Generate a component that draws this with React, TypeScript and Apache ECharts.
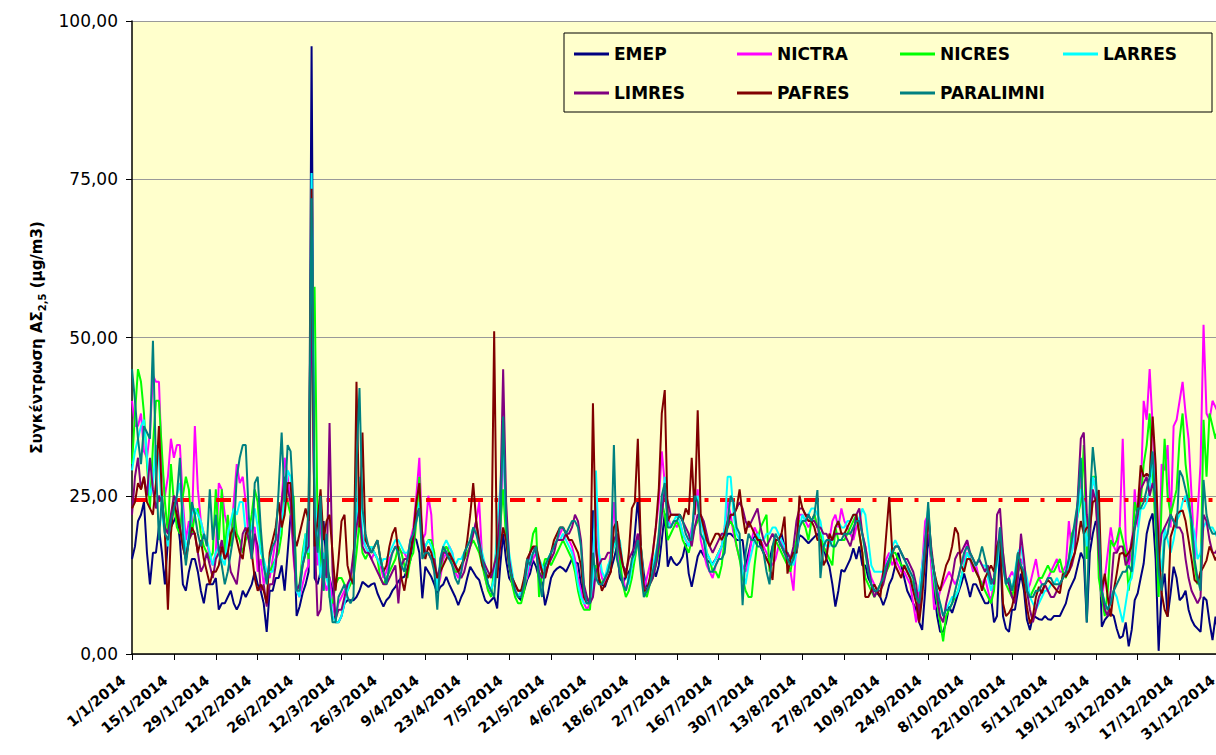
import React, { useEffect, useRef } from "react";
import * as echarts from "echarts";

// Daily PM2.5 values (μg/m3), 1/1/2014 – 31/12/2014
const EMEP = [
  15,17,21,22,24,16,11,16,16,20,16,11,18,20,
  21,22,18,11,10,13,15,15,13,10,8,11,11,11,
  12,7,8,8,9,10,8,7,8,10,9,10,11,13,
  11,10,8,3.5,10,10,12,12,14,10,16,22,20,6,
  7.5,9.6,11,13,96,12,11,13,21,14,12,10,5,5,
  6,8,8.5,8.5,8.5,9,10,11.4,11,10.6,11,11.2,9.6,8.5,
  7.5,8.5,9,10,10.6,11.5,12,12.2,13.5,14.8,18.5,18,16,8.8,
  13.8,13,12.2,11,9.6,10.6,11,12.2,11,10,9,7.7,9,10,
  12,13.8,13,12.2,11.7,10,8.5,8,8.5,9,7.2,13.8,19,14.8,
  12,11.2,10,9,8.5,10,11.7,12.7,14.8,13.8,12,11.2,7.7,9.6,
  12,13,13.5,13.8,13.5,13,14,15,14.5,14.3,11,9,8.5,8.5,
  22.7,17,11.2,11,10.6,12,13.3,15,17,12,11.2,12.2,13,13.8,
  19,24.6,17,12.7,10,11.7,13.8,12.2,14,18,22.2,13.8,15.4,14.5,
  14,14.5,15.4,17.5,12.7,10.6,13,15.4,16.4,15.5,14.8,14.5,14.3,15,
  16,17,18,19,19,18.5,18,18,18,13.8,16,18,18.5,19,
  17,16,15,14.8,17,18,18,19,17,15,14.5,15,16,18.8,
  18.5,18,17.5,18,18.5,19,18,17,15,13.8,11,7.5,10,13.3,
  13,14,15,16.7,15,17,14,14,12,11,10,9.6,9,7.7,
  9,11,12,14,16,14,12,10,9,8,7,5,3.8,10,
  19,15,10,6,3.5,3.5,5,7.5,6.5,8,9.6,11,12.7,11,
  9,11,11,10,9,8,8,9,5,6,17,6,4,3.5,
  7,7,10,12.7,10,5.4,3.8,6,5.8,5.5,5.4,6,5.5,5.4,
  6,6,6,7,8,10,11,12,14,16,15,5,16,19,
  21,20,4.3,5.4,6,6.4,6,4,2.5,2.8,5,1.2,3.8,8.5,
  9.6,12,14.3,19,21,22.2,15,0.5,10,12.7,5.9,9.6,13.8,12,
  8.5,9,10,7,5.4,4.5,4,3.5,9,8.5,5,2.2,5.9,3,2.5,
];

const NICTRA = [
  40,36,36,38,32,31,35,44,43,43,30,25,28,34,
  31,33,33,24,18,21,20,36,26,21,19,18,15,14,
  16,27,26,22,20,18,24,30,27,28,24,18,20,20,
  13,15,11,13,12,15,18,19,24,31,28,24,15,10,
  9,11,13,14,62,20,14,22,12,10,12,8,6,8,
  9,10,11,12,15,20,24,18,17,16,15,16,15,14,
  12,13,15,16,17,17,16,16,15,18,20,25,31,18,
  19,25,22,13,10,12,15,16,17,16,13,12,13,15,
  16,17,19,21,24,15,12,10,10,12,14,17,35,20,
  14,11,10,9,9,11,12,14,15,16,14,13,12,14,
  16,17,18,19,20,19,18,17,15,12,10,8,7,8,
  10,24,15,12,11,13,16,24,17,13,12,10,12,14,
  15,19,14,10,12,14,16,20,24,32,27,22,20,21,
  20,21,19,18,17,20,22,26,18,16,14,13,12,14,
  15,17,20,24,22,19,17,15,14,13,15,18,20,19,
  18,17,16,15,14,15,17,18,16,14,13,10,18,22,
  22,21,20,21,22,20,18,17,16,18,21,22,20,23,
  21,20,19,18,20,21,19,17,14,12,11,10,11,13,
  15,16,14,15,14,13,13,12,11,8,5,10,14,21,
  22,14,7,8,10,11,12,13,12,11,12,14,15,18,
  15,13,14,12,11,12,10,8,12,16,20,15,11,12,
  13,12,13,15,14,10,11,13,15,12,11,11,12,13,
  14,15,13,13,14,21,16,20,24,28,22,17,21,28,
  26,15,9,12,16,20,17,16,20,34,18,14,16,26,
  20,25,40,37,45,36,25,12,30,29,33,20,36,37,
  40,43,38,34,25,15,22,30,52,38,37,40,39,38,38,
];

const NICRES = [
  30,38,45,43,38,30,23,33,40,40,32,24,19,30,
  24,20,19,25,28,26,19,22,23,19,17,16,15,16,
  26,18,26,16,22,17,23,19,18,16,18,19,22,26,
  24,17,14,12,13,14,15,16,19,26,24,22,25,10,
  11,16,19,15,55,58,20,15,10,18,9,8,11,12,
  12,11,10,11,12,16,21,16,15,16,17,16,15,12,
  11,12,13,14,15,17,16,14,12,15,16,21,28,16,
  17,18,18,16,10,13,16,17,16,14,13,13,14,15,
  16,17,18,17,16,14,12,10,9,14,17,20,26,18,
  14,11,9,8,8,10,13,16,19,20,9,13,15,15,
  14,15,16,17,18,17,16,15,13,10,8,7,7,7,
  13,14,12,11,12,13,15,17,19,15,11,9,10,12,
  15,18,17,10,9,11,12,14,16,24,22,18,19,20,
  21,20,18,17,16,18,20,21,22,20,16,15,13,13,
  12,14,18,20,21,20,17,15,12,10,9,9,14,18,
  20,21,22,13,16,18,17,16,15,14,13,16,18,21,
  21,20,18,21,22,20,19,17,16,15,14,20,18,18,
  18,19,20,21,22,19,16,12,11,10,9,10,11,12,
  13,14,16,16,15,14,14,13,12,11,9,8,12,16,
  23,16,11,8,5,2,6,7,8,9,10,12,14,16,
  15,14,13,12,11,10,9,8,10,16,19,16,11,10,
  9,11,13,14,12,10,9,10,11,12,12,13,14,13,
  13,14,15,13,12,15,19,20,22,24,33,15,22,28,
  28,12,9,6,10,18,17,18,20,18,16,10,14,24,
  22,24,30,33,38,28,20,9,24,34,25,22,24,26,
  34,38,30,26,19,14,11,12,37,28,38,36,34,36,38,
];

const LARRES = [
  29,32,34,36,37,31,25,27,33,31,22,19,17,21,
  23,25,27,22,16,19,22,23,22,21,19,18,16,14,
  16,17,15,14,19,21,23,22,24,24,19,19,20,23,
  20,16,15,13,13,13,15,18,21,24,29,28,19,10,
  9,15,19,16,76,26,18,12,16,12,10,6,5,5,
  6,8,10,12,15,21,28,19,17,16,17,16,15,14,
  15,15,16,17,18,18,17,16,16,17,19,21,24,16,
  17,18,17,15,10,15,17,18,17,16,14,15,15,16,
  17,18,20,19,18,16,14,11,10,12,20,26,34,21,
  16,13,10,9,10,11,13,15,16,16,15,14,13,15,
  16,17,18,18,19,18,17,16,14,11,9,8,8,8,
  12,29,16,13,12,14,15,17,18,18,14,13,11,14,
  16,18,17,11,10,12,14,16,18,22,28,21,20,21,
  22,21,19,18,17,19,24,25,21,19,16,15,14,15,
  16,17,20,28,28,22,19,18,13,11,14,16,18,19,
  18,18,19,19,20,20,19,18,17,16,15,14,16,20,
  22,21,22,23,23,22,21,18,17,17,18,20,21,20,
  20,21,21,22,22,21,23,22,18,14,13,13,13,13,
  14,15,17,18,17,16,15,14,12,10,10,10,14,18,
  23,16,12,9,8,6,7,8,9,9,10,12,14,16,
  15,14,14,15,14,14,12,10,12,14,18,14,11,12,
  10,13,16,17,14,12,9,8,7,8,9,10,10,11,
  11,12,11,12,13,14,16,19,22,26,24,17,20,28,
  26,20,10,8,7,9,10,9,7,5,8,11,12,15,
  19,23,23,24,26,31,25,17,13,20,18,16,18,21,
  22,24,25,23,21,19,15,16,20,21,20,20,19,18,18,
];

const LIMRES = [
  22,28,31,26,28,25,31,26,23,25,24,20,19,22,
  25,24,20,17,15,18,19,19,16,13,14,16,14,12,
  15,16,18,15,16,13,12,11,15,19,20,18,15,19,
  17,10,11,7.5,11,11,14,19,24,28,26,24,16,10,
  11,14,16,17,60,19,6,7,15,12,36.5,13,5.5,7,
  7,9,11,12,16,20,23,17,16,16,15,14,13,12,
  11,11,12,13,14,8,14,15,15,16,18,22,23,19,
  16,16,15,15,12,14,16,16,15,15,14,13,12,13,
  15,17,19,21,18,15,14,13,12,14,16,23,45,24,
  15,12,11,10,10,11,14,16,17,16,13,12,13,14,
  15,16,18,18,18,19,19,20,22,21,18,11,9,8,
  9,13,14,15,15,16,16,18,19,16,14,13,15,16,
  17,19,15,11,10,11,12,14,17,22,26,24,22,22,
  22,22,21,20,19,17,20,22,22,21,19,17,16,17,
  18,19,19,20,22,22,23,24,23,21,20,21,22,23,
  20,18,17,18,19,18,18,17,16,16,15,17,21,23,
  23,22,22,21,21,20,20,19,19,18,18,19,19,19,
  19,18,17,19,22,23,19,17,14,11,9,10,10,11,
  13,15,16,17,17,16,15,15,14,13,11,6,12,18,
  22,17,13,9,6,5,8,10,12,15,16,16,17,18,
  16,15,14,15,14,13,14,12,11,22,23,16,12,11,
  9,8,12,19,15,10,7,5,7,9,10,11,10,9,
  9,10,11,12,13,13,14,16,25,34,35,22,18,26,
  24,16,10,7,6,10,16,16,17,17,14,15,18,20,
  22,26,27,28,25,27,25,15,19,20,21,22,21,20,
  20,19,15,12,10,9,8,9,22,21,18,16,16,17,17,
];

const PAFRES = [
  23,24,27,26,28,24,23,22,27,36,25,19,7,19,
  24,22,20,17,15,18,20,19,16,18,15,13,11,13,
  13,14,17,15,16,19,20,18,16,15,19,20,16,12,
  10,11,10,8,16,18,20,24,20,22,27,27,19,17,
  19,21,23,21,73.5,17,21,26,18,21,22,16,10,15,
  21,22,14,12,11,43,20,35,18,17,16,17,18,15,
  13,14,17,19,20,16,12,10,13,16,19,24,27,18,
  15,17,16,14,12,13,14,15,16,15,14,13,14,15,
  18,22,27,21,17,14,13,12,13,51,12,17,20,18,
  14,12,11,10,10,12,15,16,17,17,15,13,12,14,
  16,18,19,20,20,19,18,18,17,16,14,9,8,8,
  39.6,17,12,10,11,12,13,20,21,17,14,12,16,23,
  24,34,17,10,10,12,16,20,26,38,41.7,21,22,22,
  22,22,21,23,22,31,22,38.5,22,20,18,17,18,19,
  19,18,19,21,22,22,23,26,22,19,21,20,19,18,
  18,16,15,14,11.7,18,18,19,21.7,12.7,15,16,16,25,
  23,22,21,21,20,18,18,14,15,19,18,20,21,19,
  19,20,21,22,22,19,16,9,9,10,11,10,9,13,
  19,24.8,16,14,13,12,14,13,12,10,8,5,9,15,
  22,16,13,11,10,12,14,15,17,20,19,14,13,15,
  15,14,13,12,10,12,13,14,13,17,18.5,8,6,6.5,
  7.4,9.6,16,13.8,11,7.4,4.8,6,9,10.6,9.6,11,11.7,11.2,
  10.6,10,9.6,12.7,12.2,13,14.8,16,18,21,19,20,20,24,
  24.3,25.9,10,12.7,9,5.9,10,12.7,15.8,16,15.4,16,17,20,
  23,29.8,28,28.5,28,37.5,30,17,9.6,7,5.9,18.5,20,22,
  22.5,22.7,21,18,15,11.7,11.2,13,13.8,14.8,17,16,14.8,16,15,
];

const PARALIMNI = [
  45,40,34,30,36,35,34,49.5,30,18,25,19,18,21,
  23,25,31,19,14,18,24,22,19,17,19,17,26,18,
  22,16,14,11,13,16,19,28,31,33,33,22,15,27,
  28,20,14,11,15,17,18,26,35,24,33,32,23,10,
  10,14,16,23,72,22,16,25,10,19,9,5,5,9,
  10,11,9,8,9,30,42,23,19,17,16,17,18,15,
  13,11,14,16,17,16,14,13,15,18,19,21,23,15,
  16,16,15,13,7,15,17,16,15,14,12,11,13,16,
  17,18,20,19,17,15,13,11,10,9,15,19,37.5,21,
  14,12,10,9,9,11,15,14,16,17,12,9,14,15,
  16,17,18,20,20,19,20,21,21,20,17,10,8,8,
  16,12,11,11,12,13,15,33,15,13,11,10,12,15,
  16,18,13,9,10,11,13,15,19,25,27,20,20,21,
  21,22,21,19,18,18,25,24,19,18,15,13,13,14,
  15,15,16,21,25,24,20,19,7.7,16,19,18,18,17,
  17,16,13,11,17,19,18,17,16,15,14,15,17,20,
  21,21,22,21,22,25.9,12,17,18,18,17,17,18,18,
  19,19,19,20,21,21,19,16,13,11,10,10,11,12,
  14,15,16,17,17,16,15,14,13,12,9,8,12,17,
  24,16,13,10,8,6,7,7,8,10,12,14,16,17,
  16,15,14,15,17,15,13,11,12,15,20,14,11,12,
  10,12,16,14,13,10,9,9,10,10,11,11,12,12,
  11,11,11,12,13,15,18,21,24,31,19,5,24,32.7,
  28,20,10,8,7,8,10,11,12,13,13,14,13,20,
  23,23,24,26,28,32,22,13,10,18,19,22,21,20,
  29,28,26,24,21,15,12,10,27.5,22,20,19,19,20,20,
];

const SERIES_NAMES = ["EMEP", "NICTRA", "NICRES", "LARRES", "LIMRES", "PAFRES", "PARALIMNI"];
const SERIES_VALUES = [EMEP, NICTRA, NICRES, LARRES, LIMRES, PAFRES, PARALIMNI];
const SERIES_COLORS = ["#000080", "#FF00FF", "#00FF00", "#00FFFF", "#800080", "#800000", "#008080"];
const LEGEND_ROW_1 = ["EMEP", "NICTRA", "NICRES", "LARRES"];
const LEGEND_ROW_2 = ["LIMRES", "PAFRES", "PARALIMNI"];
const LIMIT_VALUE = 24.4;
const Y_MIN = 0;
const Y_MAX = 100;
const Y_STEP = 25;
const LABEL_EVERY = 14;

function buildDates(): string[] {
  const out: string[] = [];
  for (let i = 0; i < 365; i++) {
    const d = new Date(2014, 0, 1 + i);
    out.push(`${d.getDate()}/${d.getMonth() + 1}/2014`);
  }
  return out;
}
const DATES = buildDates();

export default function App() {
  const ref = useRef<HTMLDivElement>(null);
  useEffect(() => {
    if (!ref.current) return;
    const chart = echarts.init(ref.current, null, { renderer: "svg" });
    const bad = SERIES_VALUES.map((a, i) => (a.length !== 365 ? `${SERIES_NAMES[i]}:${a.length}` : "")).filter(Boolean);
    const font = "'DejaVu Sans', Arial, sans-serif";
    const legendText = {
      fontFamily: font,
      fontWeight: "bold",
      fontSize: 17,
      color: "#000",
      width: 90,
      lineHeight: 28,
    };
    const legendCommon = {
      left: 574,
      orient: "horizontal",
      icon: "rect",
      itemWidth: 35,
      itemHeight: 3,
      itemGap: 33,
      padding: 0,
      z: 12,
      textStyle: legendText,
    };
    chart.setOption({
      animation: false,
      backgroundColor: "#ffffff",
      title: bad.length ? { text: bad.join(" "), left: 150, top: 150 } : undefined,
      grid: {
        left: 132,
        top: 21,
        right: 0.5,
        bottom: 101,
        show: true,
        backgroundColor: "#FFFFCC",
        borderWidth: 0,
      },
      graphic: [
        {
          type: "rect",
          z: 11,
          shape: { x: 564, y: 33, width: 648, height: 79 },
          style: { fill: "#FFFFCC", stroke: "#000000", lineWidth: 1 },
        },
      ],
      legend: [
        { ...legendCommon, data: LEGEND_ROW_1, top: 40 },
        { ...legendCommon, data: LEGEND_ROW_2, top: 79 },
      ],
      xAxis: {
        type: "category",
        data: DATES,
        boundaryGap: false,
        axisLine: { show: true, lineStyle: { color: "#000", width: 1.5 } },
        axisTick: {
          show: true,
          interval: (i: number) => i % LABEL_EVERY === 0,
          length: 6,
          lineStyle: { color: "#000" },
        },
        axisLabel: {
          interval: (i: number) => i % LABEL_EVERY === 0,
          rotate: 40,
          margin: 17,
          padding: [0, 11, 0, 0],
          fontFamily: font,
          fontWeight: "bold",
          fontSize: 14.5,
          color: "#000",
        },
        splitLine: { show: false },
      },
      yAxis: {
        type: "value",
        min: Y_MIN,
        max: Y_MAX,
        interval: Y_STEP,
        name: "{a|Συγκέντρωση ΑΣ}{s|2,5}{a| (μg/m3)}",
        nameLocation: "middle",
        nameGap: 84,
        nameTextStyle: {
          rich: {
            a: { fontFamily: font, fontWeight: "bold", fontSize: 15, color: "#000", lineHeight: 22 },
            s: { fontFamily: font, fontWeight: "bold", fontSize: 10, color: "#000", lineHeight: 22, verticalAlign: "bottom", padding: [8, 0, 0, 0] },
          },
        },
        axisLine: { show: true, lineStyle: { color: "#000", width: 1.5 } },
        axisTick: { show: true, length: 6, lineStyle: { color: "#000" } },
        axisLabel: {
          margin: 14,
          fontFamily: font,
          fontSize: 17,
          color: "#000",
          formatter: (v: number) => v.toFixed(2).replace(".", ","),
        },
        splitLine: { show: true, lineStyle: { color: "#999999", width: 1 } },
      },
      series: [
        ...SERIES_NAMES.map((name, i) => ({
          name,
          type: "line",
          data: SERIES_VALUES[i],
          symbol: "none",
          showSymbol: false,
          lineStyle: { color: SERIES_COLORS[i], width: 2 },
          itemStyle: { color: SERIES_COLORS[i] },
          z: 2 + i,
        })),
        {
          name: "limit",
          type: "line",
          data: [],
          z: 9,
          markLine: {
            silent: true,
            symbol: "none",
            label: { show: false },
            lineStyle: { color: "#FF0000", width: 4, type: [15, 11.5, 4, 11.5] },
            data: [{ yAxis: LIMIT_VALUE }],
          },
        },
      ],
    });
    return () => chart.dispose();
  }, []);
  return (
    <div
      ref={ref}
      style={{ position: "fixed", left: 0, top: 0, width: 1222, height: 755, background: "#fff" }}
    />
  );
}
